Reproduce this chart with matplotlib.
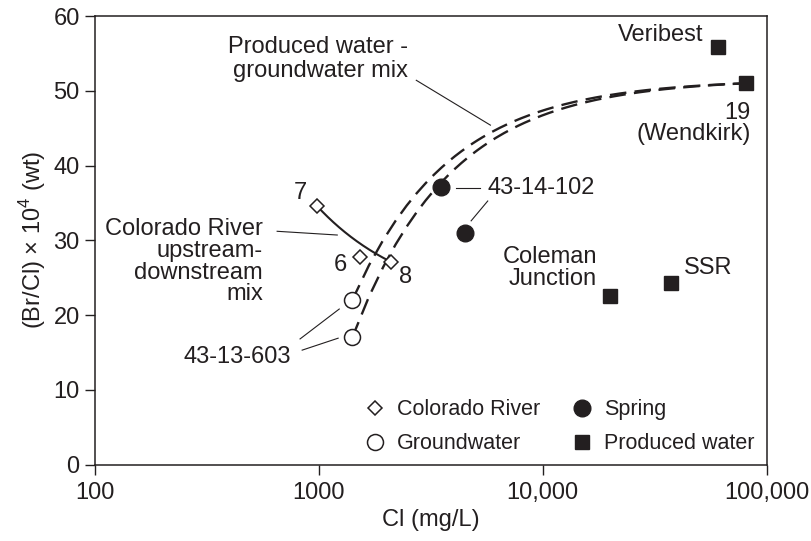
import numpy as np
import matplotlib
matplotlib.use("Agg")
import matplotlib.pyplot as plt
from matplotlib.lines import Line2D

plt.rcParams['font.family'] = ['Liberation Sans', 'DejaVu Sans']
plt.rcParams['mathtext.fontset'] = 'custom'
plt.rcParams['mathtext.rm'] = 'Liberation Sans'
plt.rcParams['font.size'] = 17

ink = '#231f20'

# Colorado River samples 7, 6, 8
river_cl = [980, 1530, 2100]
river_ratio = [34.6, 27.7, 27.1]
river_ids = ['7', '6', '8']

# groundwater 43-13-603 (two samples)
gw_cl = [1410, 1410]
gw_ratio = [22.0, 17.0]

# springs (43-14-102 and the one below it)
spring_cl = [3500, 4500]
spring_ratio = [37.1, 31.0]

# produced water: Veribest, 19 (Wendkirk), Coleman Junction, SSR
pw_cl = [60300, 80500, 19900, 37400]
pw_ratio = [55.8, 51.0, 22.5, 24.3]


def mixing_line(cl_a, r_a, cl_b, r_b, n=300):
    # binary mixing between two end members: Br and Cl mix linearly
    f = np.linspace(0, 1, n)
    cl = cl_a + f * (cl_b - cl_a)
    br = cl_a * r_a + f * (cl_b * r_b - cl_a * r_a)
    return cl, br / cl


fig = plt.figure(figsize=(8.11, 5.41), dpi=100)
ax = fig.add_axes([0.1171, 0.1414, 0.8283, 0.8290])

# produced water - groundwater mixing curves (both end at 19)
for r0 in gw_ratio:
    cx, cy = mixing_line(gw_cl[0], r0, pw_cl[1], pw_ratio[1])
    ax.plot(cx, cy, color=ink, lw=1.7, dashes=(7, 3.5), zorder=2)

# Colorado River upstream-downstream mix (7 -> 8)
cx, cy = mixing_line(river_cl[0], river_ratio[0], river_cl[2], river_ratio[2])
ax.plot(cx, cy, color=ink, lw=1.5, zorder=2)

ax.plot(river_cl, river_ratio, 'D', ms=7.5, mfc='white', mec=ink, mew=1.1, zorder=3)
ax.plot(gw_cl, gw_ratio, 'o', ms=11.5, mfc='white', mec=ink, mew=1.1, zorder=3)
ax.plot(spring_cl, spring_ratio, 'o', ms=12, color=ink, zorder=3)
ax.plot(pw_cl, pw_ratio, 's', ms=10.5, color=ink, zorder=3)

ax.set_xscale('log')
ax.set_xlim(100, 100000)
ax.set_ylim(0, 60)
ax.set_xticks([100, 1000, 10000, 100000], ['100', '1000', '10,000', '100,000'])
ax.set_yticks(range(0, 61, 10))
ax.minorticks_off()
ax.tick_params(direction='out', length=7.5, width=1, colors=ink, labelsize=17)
ax.tick_params(axis='x', pad=5)
for s in ax.spines.values():
    s.set_color(ink)
    s.set_linewidth(1.1)

ax.set_xlabel('Cl (mg/L)', fontsize=17, color=ink, labelpad=4)
ax.set_ylabel('(Br/Cl) × 10$^{4}$ (wt)', fontsize=17, color=ink, labelpad=4)

# point labels for the river samples
for t, lx, ly in zip(river_ids, [824, 1245, 2430], [36.3, 26.7, 25.1]):
    ax.text(lx, ly, t, ha='center', va='center', color=ink)

ax.text(2506, 54.3, 'Produced water -\ngroundwater mix', ha='right', va='center',
        multialignment='right', linespacing=1.12, color=ink)
ax.plot([2723, 5835], [51.4, 45.4], color=ink, lw=0.8)

ax.text(563, 27.1, 'Colorado River\nupstream-\ndownstream\nmix', ha='right', va='center',
        multialignment='right', linespacing=0.98, color=ink)
ax.plot([651, 1208], [31.2, 30.7], color=ink, lw=0.8)

ax.text(433, 14.4, '43-13-603', ha='center', va='center', color=ink)
ax.plot([824, 1233], [16.8, 20.8], color=ink, lw=0.8)
ax.plot([842, 1219], [15.3, 16.9], color=ink, lw=0.8)

ax.text(5650, 37.0, '43-14-102', ha='left', va='center', color=ink)
ax.plot([4112, 5260], [37.0, 37.0], color=ink, lw=0.8)
ax.plot([4786, 5676], [32.6, 35.25], color=ink, lw=0.8)

ax.text(17500, 26.25, 'Coleman\nJunction', ha='right', va='center',
        multialignment='right', linespacing=0.98, color=ink)
ax.text(42500, 26.3, 'SSR', ha='left', va='center', color=ink)
ax.text(52200, 57.5, 'Veribest', ha='right', va='center', color=ink)
ax.text(84700, 45.6, '19\n(Wendkirk)', ha='right', va='center',
        multialignment='right', linespacing=0.97, color=ink)

handles = [
    Line2D([], [], ls='none', marker='D', ms=7.5, mfc='white', mec=ink, mew=1.1),
    Line2D([], [], ls='none', marker='o', ms=11.5, mfc='white', mec=ink, mew=1.1),
    Line2D([], [], ls='none', marker='o', ms=12, color=ink),
    Line2D([], [], ls='none', marker='s', ms=10.5, color=ink),
]
labels = ['Colorado River', 'Groundwater', 'Spring', 'Produced water']
ax.legend(handles, labels, ncol=2, frameon=False, loc='upper left',
          bbox_to_anchor=(0.4005, 0.145), borderaxespad=0, borderpad=0,
          handlelength=1.0, handletextpad=0.53, columnspacing=1.45,
          labelspacing=0.6, fontsize=15.5, labelcolor=ink)

fig.savefig('out.png', dpi=100)
